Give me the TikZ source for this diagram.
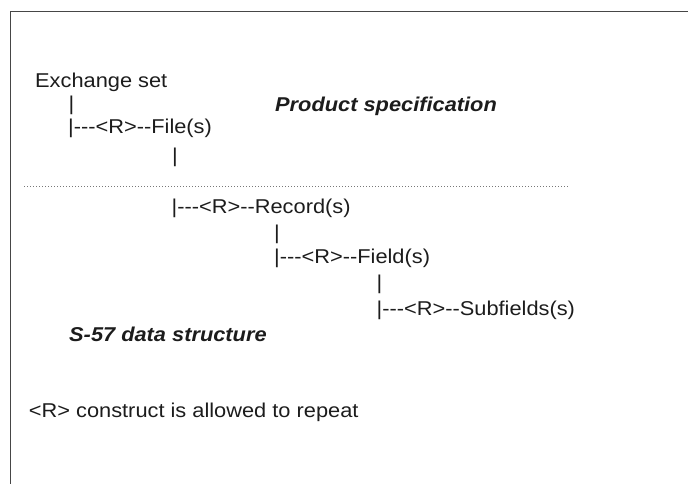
\documentclass[tikz,border=0pt]{standalone}
\usepackage{fontspec}
\setmainfont{Liberation Sans}[FakeStretch=1.09,Ligatures=TeXOff]
\begin{document}
\begin{tikzpicture}[x=1bp,y=-1bp,
  txt/.style={anchor=base west,inner sep=0pt,text={rgb,255:red,28;green,28;blue,28},
    font=\fontsize{20bp}{24bp}\selectfont},
  title/.style={txt,font=\fontsize{20bp}{24bp}\selectfont\bfseries\itshape},
  frameline/.style={draw={rgb,255:red,70;green,70;blue,70},line width=1.6bp},
  sepline/.style={draw={rgb,255:red,120;green,120;blue,120},line width=1bp,dash pattern=on 1bp off 2bp}]
\useasboundingbox (0,0) rectangle (688,484);
% open frame: top and left edges only
\draw[frameline] (10.5,484) -- (10.5,11.7) -- (688,11.7);

% product specification part
\node[txt] (xset) at (35,88) {Exchange set};
\node[txt] (bar1) at (68.5,111) {|};
\node[txt] (file) at (68,134) {|---<R>--File(s)};
\node[txt] (bar2) at (172,163) {|};
\node[title] (prodspec) at (275,112) {Product specification};

% boundary between the two layers
\coordinate (sepL) at (24,187);
\coordinate (sepR) at (569,187);
\draw[sepline] (sepL) -- (sepR);

% S-57 part
\node[txt] (record) at (171.5,214) {|---<R>--Record(s)};
\node[txt] (bar3) at (274,240) {|};
\node[txt] (field) at (274,264) {|---<R>--Field(s)};
\node[txt] (bar4) at (376.5,289) {|};
\node[txt] (subf) at (376.5,315) {|---<R>--Subfields(s)};
\node[title] (s57) at (69,341) {S-57 data structure};

\node[txt] (note) at (28.7,417) {<R> construct is allowed to repeat};
\end{tikzpicture}
\end{document}
